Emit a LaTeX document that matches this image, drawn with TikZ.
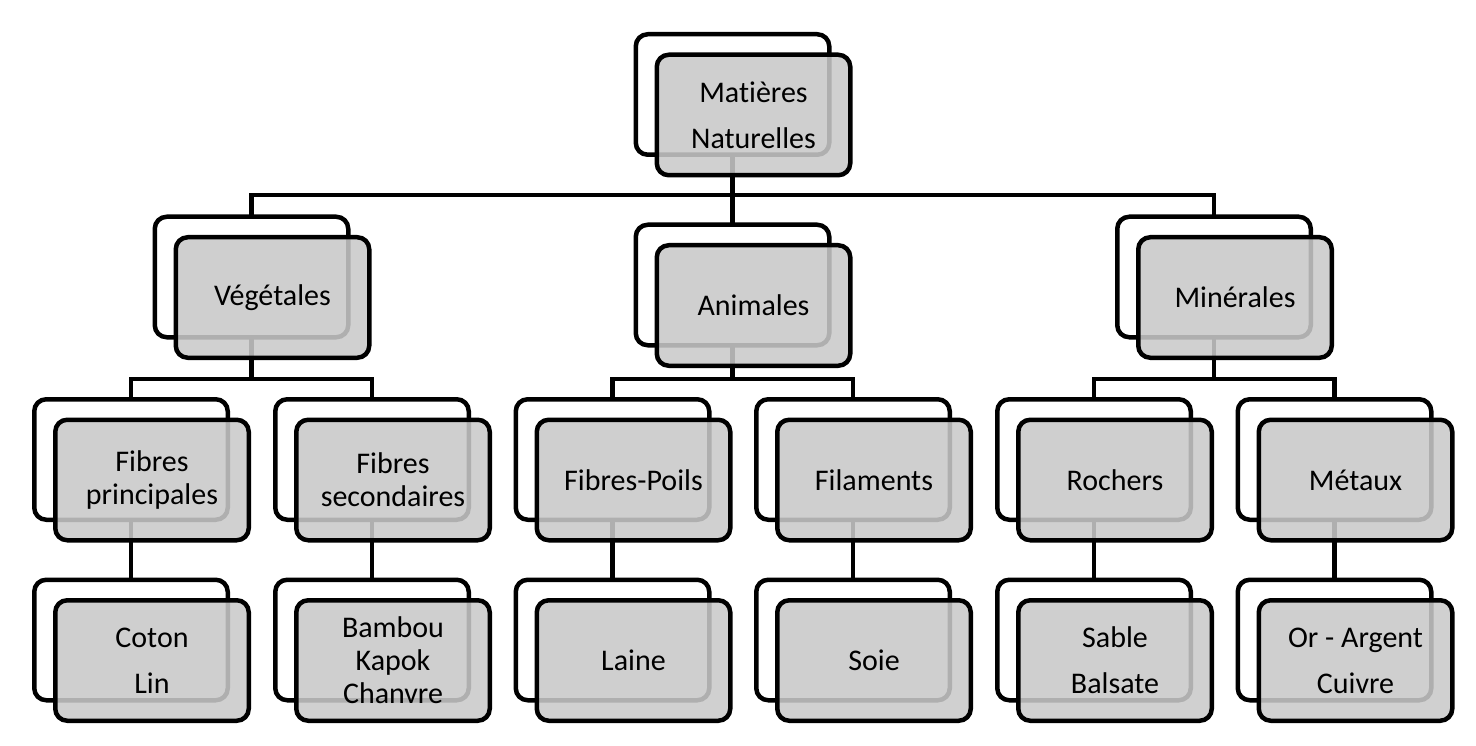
\documentclass[tikz,border=0pt]{standalone}
\usepackage{fontspec}
\setmainfont{Carlito}[RawFeature={-liga;-clig;-dlig}]
\usetikzlibrary{backgrounds}
\definecolor{boxfill}{RGB}{201,201,201}
\newcommand\mkpair[5][]{%
  \node[backbox] (#2) at (#3,#4) {};
  \node[frontbox,#1] (#2f) at (#3+21,#4+20.5) {#5};
}
\begin{document}
\begin{tikzpicture}[x=1pt,y=-1pt,
  backbox/.style={draw, line width=4.5pt, rounded corners=12pt, fill=white,
    minimum width=193.5pt, minimum height=120.5pt, inner sep=0pt},
  frontbox/.style={backbox, fill=boxfill, fill opacity=0.875, text opacity=1,
    align=center, font=\fontsize{30}{46}\selectfont},
  tight/.style={font=\fontsize{30}{33}\selectfont},
  conn/.style={line width=4.5pt}]
\useasboundingbox (0,0) rectangle (1476,746);
% top
\mkpair{top}{732.5}{94.5}{Mat\kern0pt ières\\Naturelles}
% level 2
\mkpair{veg}{251.5}{277}{Végétales}
\mkpair{ani}{732.5}{285}{Animales}
\mkpair{min}{1214}{277}{Minérales}
% level 3
\mkpair[tight]{fp}{131}{459.5}{Fibres\\principales}
\mkpair[tight]{fs}{372}{459.5}{Fibres\\secondaires}
\mkpair{fpo}{612.5}{459.5}{Fibres-Poils}
\mkpair{fil}{853}{459.5}{Filaments}
\mkpair{roc}{1094}{459.5}{Rochers}
\mkpair{met}{1334.5}{459.5}{Métaux}
% leaves
\mkpair{cot}{131}{640}{Coton\\Lin}
\mkpair[tight]{bam}{372}{640}{Bambou\\Kapok\\Chanvre}
\mkpair{lai}{612.5}{640}{Laine}
\mkpair{soi}{853}{640}{Soie}
\mkpair{sab}{1094}{640}{Sable\\Balsate}
\mkpair{ora}{1334.5}{640}{Or - Argent\\Cuivre}
% connectors
\begin{scope}[on background layer]
  \coordinate (b0) at (0,195);
  \coordinate (b1) at (0,379);
  \draw[conn] (top.center) |- (veg.center |- b0) -- (veg.center);
  \draw[conn] (top.center) |- (min.center |- b0) -- (min.center);
  \draw[conn] (top.center) -- (ani.center);
  \draw[conn] (veg.center) |- (fp.center |- b1) -- (fp.center);
  \draw[conn] (veg.center) |- (fs.center |- b1) -- (fs.center);
  \draw[conn] (ani.center) |- (fpo.center |- b1) -- (fpo.center);
  \draw[conn] (ani.center) |- (fil.center |- b1) -- (fil.center);
  \draw[conn] (min.center) |- (roc.center |- b1) -- (roc.center);
  \draw[conn] (min.center) |- (met.center |- b1) -- (met.center);
  \draw[conn] (fp.center) -- (cot.center);
  \draw[conn] (fs.center) -- (bam.center);
  \draw[conn] (fpo.center) -- (lai.center);
  \draw[conn] (fil.center) -- (soi.center);
  \draw[conn] (roc.center) -- (sab.center);
  \draw[conn] (met.center) -- (ora.center);
\end{scope}
\end{tikzpicture}
\end{document}
